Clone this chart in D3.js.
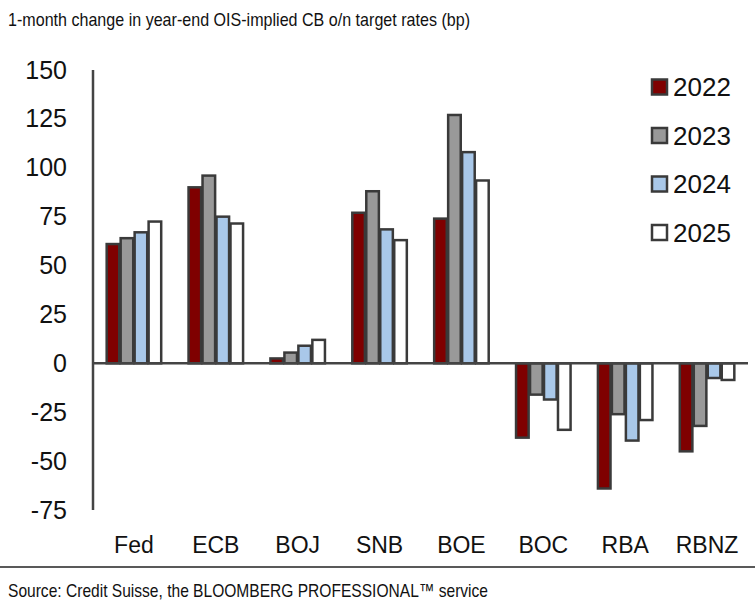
<!DOCTYPE html>
<html>
<head>
<meta charset="utf-8">
<script src="https://cdn.jsdelivr.net/npm/d3@7"></script>
<style>
  body { margin: 0; background: #fff; }
  text { font-family: "Liberation Sans", Arial, sans-serif; fill: #111; }
</style>
</head>
<body>
<div id="chart"></div>
<script>
var banks = ["Fed", "ECB", "BOJ", "SNB", "BOE", "BOC", "RBA", "RBNZ"];
var years = ["2022", "2023", "2024", "2025"];
var v2022 = [61, 90, 2.5, 77, 74, -38, -64, -45];
var v2023 = [64, 96, 5.5, 88, 127, -16, -26, -32];
var v2024 = [67, 75, 9, 68.5, 108, -18.5, -39.5, -7.5];
var v2025 = [72.5, 71.5, 12, 63, 93.5, -34, -29, -8.5];
var yTicks = [150, 125, 100, 75, 50, 25, 0, -25, -50, -75];
var fills = ["#7f0000", "#999999", "#a9c8e9", "#ffffff"];

var series = [v2022, v2023, v2024, v2025];

var width = 755, height = 611;
var margin = {top: 70, right: 7, bottom: 101, left: 93};

var svg = d3.select("#chart").append("svg")
    .attr("width", width)
    .attr("height", height);

var y = d3.scaleLinear()
    .domain([-75, 150])
    .range([height - margin.bottom, margin.top]);

var x0 = d3.scaleBand()
    .domain(banks)
    .range([margin.left, width - margin.right])
    .paddingInner(0.3)
    .paddingOuter(0.15);

var x1 = d3.scaleBand()
    .domain(years)
    .range([0, x0.bandwidth()])
    .padding(0.1);

// title
svg.append("text")
    .attr("x", 8)
    .attr("y", 26)
    .attr("textLength", 462)
    .attr("lengthAdjust", "spacingAndGlyphs")
    .style("font-size", "19px")
    .text("1-month change in year-end OIS-implied CB o/n target rates (bp)");

// bars
var groups = svg.selectAll(".grp")
    .data(banks)
    .enter().append("g")
    .attr("class", "grp")
    .attr("transform", function (d) { return "translate(" + x0(d) + ",0)"; });

groups.selectAll("rect")
    .data(function (d, i) {
        return years.map(function (yr, j) { return {year: yr, idx: j, value: series[j][i]}; });
    })
    .enter().append("rect")
    .attr("x", function (d) { return x1(d.year); })
    .attr("y", function (d) { return y(Math.max(0, d.value)); })
    .attr("width", x1.bandwidth())
    .attr("height", function (d) { return Math.abs(y(d.value) - y(0)); })
    .attr("fill", function (d) { return fills[d.idx]; })
    .attr("stroke", "#3a3a3a")
    .attr("stroke-width", 2.5);

// y axis
var yAxis = d3.axisLeft(y)
    .tickValues(yTicks)
    .tickSize(0)
    .tickPadding(26)
    .tickFormat(function (d) { return String(d); });

var gy = svg.append("g")
    .attr("transform", "translate(" + margin.left + ",0)")
    .call(yAxis);
gy.select(".domain").remove();
gy.selectAll("text")
    .style("font-size", "25px")
    .style("font-family", "'Liberation Sans', Arial, sans-serif")
    .attr("fill", "#111");

svg.append("line")
    .attr("x1", margin.left).attr("x2", margin.left)
    .attr("y1", y(150)).attr("y2", y(-75))
    .attr("stroke", "#444").attr("stroke-width", 2.5);

// zero line
svg.append("line")
    .attr("x1", margin.left).attr("x2", width - margin.right)
    .attr("y1", y(0)).attr("y2", y(0))
    .attr("stroke", "#444").attr("stroke-width", 2.5);

// category labels
svg.selectAll(".cat")
    .data(banks)
    .enter().append("text")
    .attr("class", "cat")
    .attr("x", function (d) { return x0(d) + x0.bandwidth() / 2; })
    .attr("y", 553)
    .attr("text-anchor", "middle")
    .style("font-size", "23px")
    .text(function (d) { return d; });

// legend
var legend = svg.selectAll(".leg")
    .data(years)
    .enter().append("g")
    .attr("class", "leg")
    .attr("transform", function (d, i) { return "translate(652," + (87 + i * 48.5) + ")"; });

legend.append("rect")
    .attr("x", 0).attr("y", -7.5)
    .attr("width", 15).attr("height", 15)
    .attr("fill", function (d, i) { return fills[i]; })
    .attr("stroke", "#3a3a3a")
    .attr("stroke-width", 2.5);

legend.append("text")
    .attr("x", 21)
    .attr("y", 9)
    .style("font-size", "26px")
    .text(function (d) { return d; });

// bottom rule and source
svg.append("line")
    .attr("x1", 0).attr("x2", width)
    .attr("y1", 567).attr("y2", 567)
    .attr("stroke", "#222").attr("stroke-width", 1.5);

svg.append("text")
    .attr("x", 8)
    .attr("y", 597)
    .attr("textLength", 480)
    .attr("lengthAdjust", "spacingAndGlyphs")
    .style("font-size", "19px")
    .text("Source: Credit Suisse, the BLOOMBERG PROFESSIONAL\u2122 service");
</script>
</body>
</html>
